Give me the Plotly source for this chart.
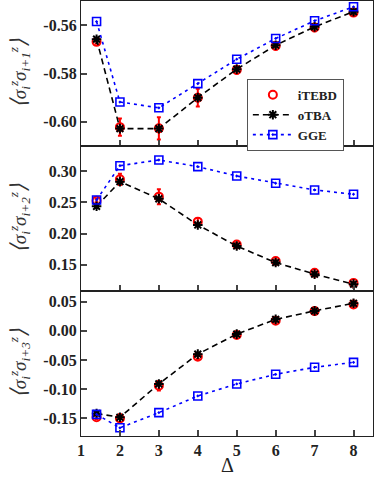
import plotly.graph_objects as go
from plotly.subplots import make_subplots

delta = [1.4, 2, 3, 4, 5, 6, 7, 8]

# panel 1: <sz_i sz_i+1>
itebd1 = [-0.5669, -0.6022, -0.6027, -0.5900, -0.5785, -0.5686, -0.5610, -0.5548]
itebd1_err = [0.0008, 0.0036, 0.0046, 0.0037, 0.0015, 0.0015, 0.0015, 0.0010]
otba1 = [-0.5658, -0.6028, -0.6028, -0.5900, -0.5782, -0.5683, -0.5607, -0.5544]
gge1 = [-0.5585, -0.5918, -0.5942, -0.5842, -0.5741, -0.5655, -0.5582, -0.5524]

# panel 2: <sz_i sz_i+2>
itebd2 = [0.2526, 0.2867, 0.2590, 0.2190, 0.1825, 0.1560, 0.1370, 0.1210]
itebd2_err = [0.0030, 0.0090, 0.0120, 0.0060, 0.0025, 0.0025, 0.0020, 0.0020]
otba2 = [0.2435, 0.2830, 0.2555, 0.2137, 0.1800, 0.1535, 0.1350, 0.1190]
gge2 = [0.2537, 0.3085, 0.3176, 0.3070, 0.2920, 0.2804, 0.2697, 0.2628]

# panel 3: <sz_i sz_i+3>
itebd3 = [-0.1480, -0.1500, -0.0940, -0.0444, -0.0073, 0.0170, 0.0336, 0.0450]
itebd3_err = [0.0030, 0.0070, 0.0080, 0.0040, 0.0030, 0.0030, 0.0025, 0.0025]
otba3 = [-0.1415, -0.1480, -0.0910, -0.0400, -0.0057, 0.0195, 0.0340, 0.0470]
gge3 = [-0.1430, -0.1660, -0.1400, -0.1115, -0.0910, -0.0745, -0.0625, -0.0540]

x_ticks = [1, 2, 3, 4, 5, 6, 7, 8]
y1_ticks = [-0.60, -0.58, -0.56]
y2_ticks = [0.15, 0.20, 0.25, 0.30]
y3_ticks = [-0.15, -0.10, -0.05, 0.00, 0.05]

RED = "#ff0000"
BLUE = "#0000ff"
BLACK = "#000000"
SERIF = "Liberation Serif, Times New Roman, serif"

fig = make_subplots(rows=3, cols=1, shared_xaxes=True, vertical_spacing=0)

panels = [(itebd1, itebd1_err, otba1, gge1), (itebd2, itebd2_err, otba2, gge2),
          (itebd3, itebd3_err, otba3, gge3)]
for i, (it, ite, ot, gg) in enumerate(panels):
    row = i + 1
    show = (row == 1)
    fig.add_trace(go.Scatter(
        x=delta, y=it, name="iTEBD", mode="markers", showlegend=show,
        marker=dict(symbol="circle-open", color=RED, size=8, line=dict(width=2, color=RED)),
        error_y=dict(type="data", array=ite, color=RED, thickness=2, width=2),
    ), row=row, col=1)
    fig.add_trace(go.Scatter(
        x=delta, y=ot, name="oTBA", mode="lines+markers", showlegend=show,
        line=dict(color=BLACK, width=1.6, dash="6px,4px"),
        marker=dict(symbol="asterisk-open", color=BLACK, size=8, line=dict(width=2, color=BLACK)),
    ), row=row, col=1)
    fig.add_trace(go.Scatter(
        x=delta, y=gg, name="GGE", mode="lines+markers", showlegend=show,
        line=dict(color=BLUE, width=1.6, dash="3px,4px"),
        marker=dict(symbol="square-open-dot", color=BLUE, size=8, line=dict(width=1.6, color=BLUE)),
    ), row=row, col=1)

axis_common = dict(showline=True, mirror=True, linecolor="#222222", linewidth=1.2,
                   ticks="inside", ticklen=6, tickwidth=1.5, tickcolor="#444444",
                   showgrid=False, zeroline=False, automargin=False,
                   tickfont=dict(family=SERIF, size=16, color="#222222", weight="bold"))

for r in (1, 2, 3):
    fig.update_xaxes(range=[1, 8.5], tickvals=x_ticks, row=r, col=1, **axis_common)
fig.update_xaxes(showticklabels=False, row=1, col=1)
fig.update_xaxes(showticklabels=False, row=2, col=1)
fig.update_xaxes(ticktext=[str(v) for v in x_ticks], row=3, col=1)

fig.update_yaxes(range=[-0.61, -0.55], tickvals=y1_ticks, ticktext=["%.2f" % v for v in y1_ticks],
                 row=1, col=1, **axis_common)
fig.update_yaxes(range=[0.108, 0.34], tickvals=y2_ticks, ticktext=["%.2f" % v for v in y2_ticks],
                 row=2, col=1, **axis_common)
fig.update_yaxes(range=[-0.18, 0.068], tickvals=y3_ticks, ticktext=["%.2f" % v for v in y3_ticks],
                 row=3, col=1, **axis_common)

BR_L = "<span style='font-size:22px'>⟨</span>"
BR_R = "<span style='font-size:22px'>⟩</span>"
ytitles = [
    BR_L + "σ<sub>i</sub><sup>z</sup>σ<sub>i+1</sub><sup>z</sup>" + BR_R,
    BR_L + "σ<sub>i</sub><sup>z</sup>σ<sub>i+2</sub><sup>z</sup>" + BR_R,
    BR_L + "σ<sub>i</sub><sup>z</sup>σ<sub>i+3</sub><sup>z</sup>" + BR_R,
]
centers = [5 / 6, 1 / 2, 1 / 6]
for t, c in zip(ytitles, centers):
    fig.add_annotation(text="<i>" + t + "</i>", xref="paper", yref="paper", x=-0.21, y=c,
                       textangle=-90, showarrow=False, xanchor="center", yanchor="middle",
                       font=dict(family=SERIF, size=19, color="#333333"))

fig.add_annotation(text="Δ", xref="paper", yref="paper", x=0.5, y=-0.0966,
                   showarrow=False, xanchor="center", yanchor="bottom",
                   font=dict(family=SERIF, size=20, color="#222222"))

fig.update_layout(
    width=374, height=478,
    margin=dict(l=81, r=1, t=1, b=42),
    paper_bgcolor="white", plot_bgcolor="white",
    legend=dict(x=0.568, y=0.821, xanchor="left", yanchor="top",
                bgcolor="white", bordercolor="#555555", borderwidth=1,
                font=dict(family=SERIF, size=13, color="#222222", weight="bold"),
                tracegroupgap=0, itemwidth=40),
)

fig.write_html("out.html", config={"displayModeBar": False},
               post_script="document.body.style.margin='0';")
